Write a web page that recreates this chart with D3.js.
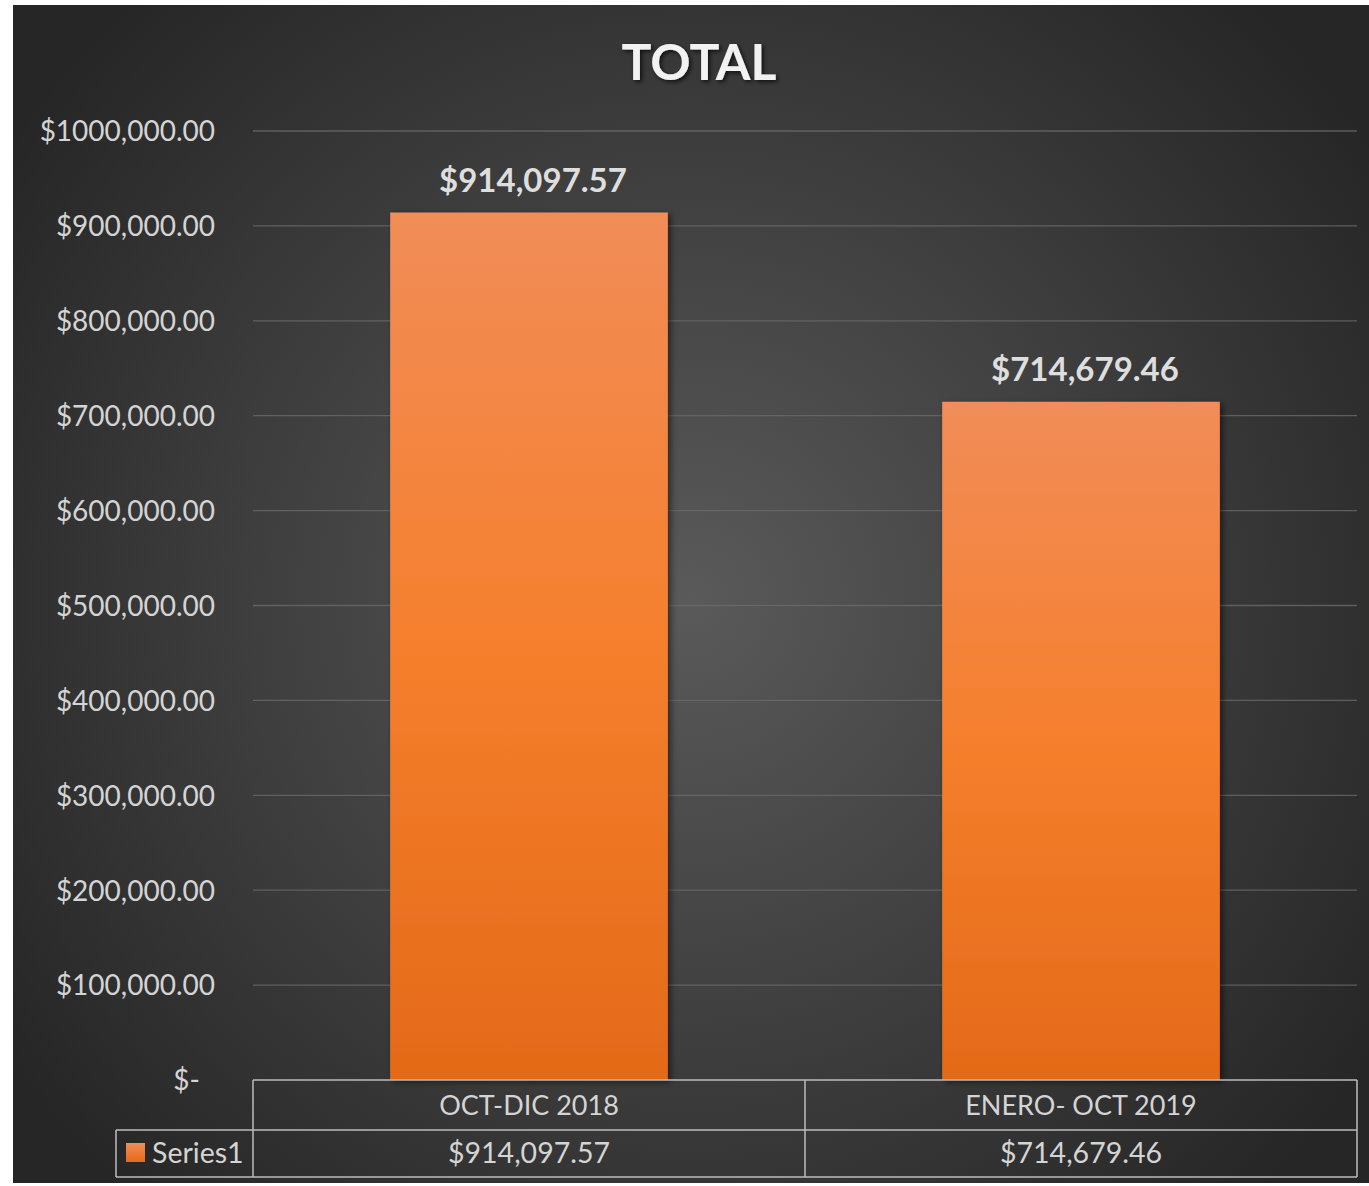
<!DOCTYPE html>
<html><head><meta charset="utf-8">
<script src="https://cdn.jsdelivr.net/npm/d3@7"></script>
<style>
html,body{margin:0;padding:0;background:#fff;}
svg{display:block;}
</style></head>
<body>
<svg id="c" width="1369" height="1186"></svg>
<script>
const title = "TOTAL";
const categories = ["OCT-DIC 2018", "ENERO- OCT 2019"];
const seriesName = "Series1";
const values = [914097.57, 714679.46];
const valueLabels = ["$914,097.57", "$714,679.46"];
const tickValues = [0, 100000, 200000, 300000, 400000, 500000, 600000, 700000, 800000, 900000, 1000000];
const tickLabels = ["$-", "$100,000.00", "$200,000.00", "$300,000.00", "$400,000.00", "$500,000.00", "$600,000.00", "$700,000.00", "$800,000.00", "$900,000.00", "$1000,000.00"];

const FONT = "Lato, 'Open Sans', sans-serif";
const svg = d3.select("#c");
const defs = svg.append("defs");

const bg = defs.append("radialGradient").attr("id","bg")
  .attr("gradientUnits","userSpaceOnUse").attr("cx",690).attr("cy",600).attr("r",820);
bg.append("stop").attr("offset","0").attr("stop-color","#5a5a5a");
bg.append("stop").attr("offset","1").attr("stop-color","#262626");

const bar = defs.append("linearGradient").attr("id","bar").attr("x1",0).attr("y1",0).attr("x2",0).attr("y2",1);
bar.append("stop").attr("offset","0").attr("stop-color","#f18d58");
bar.append("stop").attr("offset","0.5").attr("stop-color","#f57f2d");
bar.append("stop").attr("offset","1").attr("stop-color","#e46a18");

const sh = defs.append("filter").attr("id","sh").attr("x","-10%").attr("y","-10%").attr("width","130%").attr("height","130%");
sh.append("feDropShadow").attr("dx",3).attr("dy",2).attr("stdDeviation",3).attr("flood-color","#000").attr("flood-opacity",0.5);
const tsh = defs.append("filter").attr("id","tsh").attr("x","-10%").attr("y","-20%").attr("width","130%").attr("height","150%");
tsh.append("feDropShadow").attr("dx",2).attr("dy",2).attr("stdDeviation",2).attr("flood-color","#000").attr("flood-opacity",0.7);

svg.append("rect").attr("x",13).attr("y",5).attr("width",1356).attr("height",1178).attr("fill","url(#bg)");

const x0 = 253, x1 = 1357;
const y = d3.scaleLinear().domain([0, 1000000]).range([1080, 131]);
const x = d3.scaleBand().domain(categories).range([x0, x1]).paddingInner(0).paddingOuter(0);
const barW = x.bandwidth() * 0.503;

// gridlines
svg.append("g").selectAll("line").data(tickValues.slice(1)).join("line")
  .attr("x1", x0).attr("x2", x1)
  .attr("y1", d => y(d)).attr("y2", d => y(d))
  .attr("stroke", "#6a6a6a").attr("stroke-width", 1.3).attr("opacity",0.8);

// y axis labels via d3 axis
const yAxis = d3.axisLeft(y).tickValues(tickValues).tickFormat((d,i) => tickLabels[i]).tickSize(0).tickPadding(0);
const ga = svg.append("g").attr("transform","translate(215,0)").call(yAxis);
ga.select(".domain").remove();
ga.selectAll("text").attr("font-family", FONT).attr("font-size", 28).attr("fill", "#d4d4d4").attr("dy","0.35em");
ga.selectAll(".tick").filter(d => d === 0).select("text").attr("x",-15);

// bars
svg.append("g").selectAll("rect").data(values).join("rect")
  .attr("x", (d,i) => x(categories[i]) + (x.bandwidth() - barW)/2)
  .attr("width", barW)
  .attr("y", d => y(d))
  .attr("height", d => y(0) - y(d))
  .attr("fill", "url(#bar)")
  .attr("filter", "url(#sh)");

// data labels
svg.append("g").selectAll("text").data(values).join("text")
  .attr("x", (d,i) => x(categories[i]) + x.bandwidth()/2 + 4)
  .attr("y", d => y(d) - 21)
  .attr("text-anchor","middle")
  .attr("font-family", FONT).attr("font-weight", 700).attr("font-size", 33)
  .attr("fill", "#dedede")
  .text((d,i) => valueLabels[i]);

// title
svg.append("text").attr("x", 699).attr("y", 80).attr("text-anchor","middle")
  .attr("font-family", FONT).attr("font-weight", 700).attr("font-size", 50)
  .attr("fill", "#f2f2f2").attr("filter","url(#tsh)").text(title);

// data table
const rowTop = 1080, rowMid = 1130, rowBot = 1177, legLeft = 116;
const tbl = svg.append("g").attr("stroke", "#bdbdbd").attr("stroke-width", 1.5).attr("fill","none");
tbl.append("line").attr("x1", x0).attr("x2", x1).attr("y1", rowTop).attr("y2", rowTop);
tbl.append("line").attr("x1", legLeft).attr("x2", x1).attr("y1", rowMid).attr("y2", rowMid);
tbl.append("line").attr("x1", legLeft).attr("x2", x1).attr("y1", rowBot).attr("y2", rowBot);
tbl.append("line").attr("x1", legLeft).attr("x2", legLeft).attr("y1", rowMid).attr("y2", rowBot);
const vx = [x0].concat(categories.map(c => x(c) + x.bandwidth()));
tbl.selectAll(".v").data(vx).join("line").attr("class","v")
  .attr("x1", d => d).attr("x2", d => d).attr("y1", rowTop).attr("y2", rowBot);

svg.append("g").selectAll("text").data(categories).join("text")
  .attr("x", d => x(d) + x.bandwidth()/2).attr("y", 1115)
  .attr("text-anchor","middle").attr("font-family", FONT).attr("font-size", 27)
  .attr("fill", "#d4d4d4").text(d => d);
svg.append("g").selectAll("text").data(values).join("text")
  .attr("x", (d,i) => x(categories[i]) + x.bandwidth()/2).attr("y", 1163)
  .attr("text-anchor","middle").attr("font-family", FONT).attr("font-size", 28.5)
  .attr("fill", "#d4d4d4").text((d,i) => valueLabels[i]);

// legend key
const kg = defs.append("linearGradient").attr("id","key").attr("x1",0).attr("y1",0).attr("x2",0).attr("y2",1);
kg.append("stop").attr("offset","0").attr("stop-color","#f18d58");
kg.append("stop").attr("offset","1").attr("stop-color","#e46a18");
svg.append("rect").attr("x",126).attr("y",1143).attr("width",19).attr("height",19).attr("fill","url(#key)");
svg.append("text").attr("x",152).attr("y",1163).attr("font-family", FONT).attr("font-size", 28.5)
  .attr("fill","#d4d4d4").text(seriesName);
</script>
</body></html>
